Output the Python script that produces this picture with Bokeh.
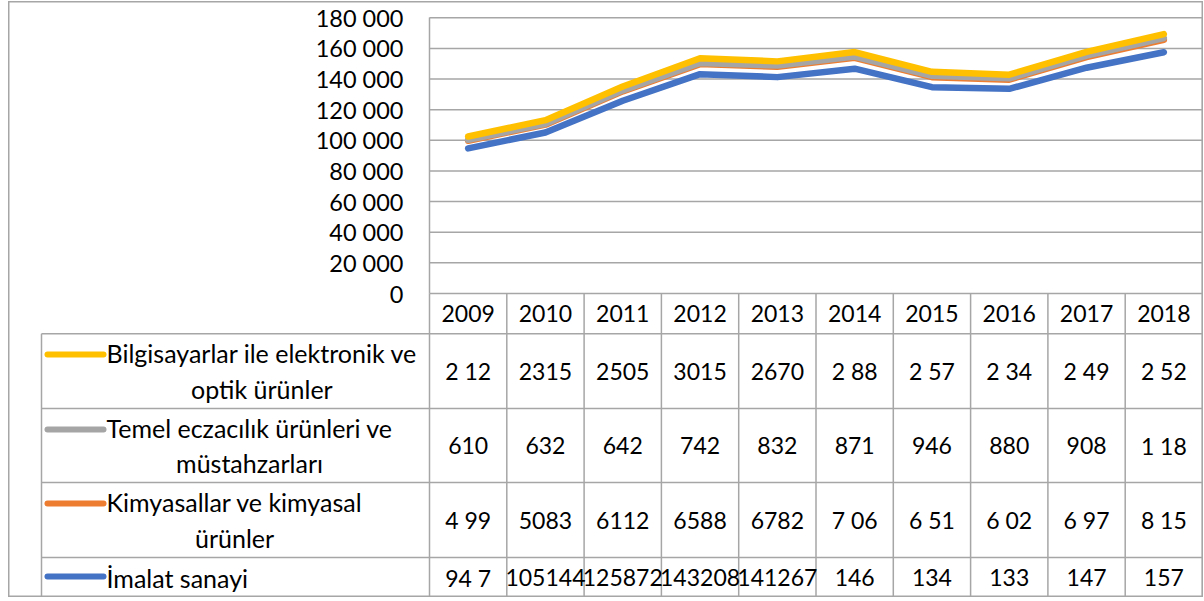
import numpy as np
from bokeh.plotting import figure
from bokeh.models import Range1d, LinearAxis, FixedTicker
from bokeh.core.properties import value
from bokeh.embed import file_html
from bokeh.resources import INLINE

# ---------------- data ----------------
years = ["2009", "2010", "2011", "2012", "2013", "2014", "2015", "2016", "2017", "2018"]
imalat = [94750, 105144, 125872, 143208, 141267, 146800, 134700, 133600, 147400, 157500]
kimyasal = [4990, 5083, 6112, 6588, 6782, 7060, 6510, 6020, 6970, 8150]
eczacilik = [610, 632, 642, 742, 832, 871, 946, 880, 908, 1180]
bilgisayar = [2120, 2315, 2505, 3015, 2670, 2880, 2570, 2340, 2490, 2520]

# texts as displayed in the (narrow) data-table cells
lbl_bilgisayar = ["2 12", "2315", "2505", "3015", "2670", "2 88", "2 57", "2 34", "2 49", "2 52"]
lbl_eczacilik = ["610", "632", "642", "742", "832", "871", "946", "880", "908", "1 18"]
lbl_kimyasal = ["4 99", "5083", "6112", "6588", "6782", "7 06", "6 51", "6 02", "6 97", "8 15"]
lbl_imalat = ["94 7", "105144", "125872", "143208", "141267", "146", "134", "133", "147", "157"]

series_names = ["Bilgisayarlar ile elektronik ve\noptik ürünler",
                "Temel eczacılık ürünleri ve\nmüstahzarları",
                "Kimyasallar ve kimyasal\nürünler",
                "İmalat sanayi"]
series_colors = ["#FFC000", "#A5A5A5", "#ED7D31", "#4472C4"]

y_ticks = [0, 20000, 40000, 60000, 80000, 100000, 120000, 140000, 160000, 180000]
y_tick_labels = ["0", "20 000", "40 000", "60 000", "80 000", "100 000",
                 "120 000", "140 000", "160 000", "180 000"]

# ---------------- layout constants (pixels) ----------------
W, H = 1195, 596
PLOT_LEFT = 421          # frame px of plot-area left edge
COL_W = 77.3             # width of one year column
ZERO_Y = 292             # frame py of value 0
PX_PER_UNIT = 275.7 / 180000

X0 = -PLOT_LEFT / COL_W
X1 = (W - PLOT_LEFT) / COL_W
Y1 = ZERO_Y / PX_PER_UNIT
Y0 = -(H - ZERO_Y) / PX_PER_UNIT

FONT = "Lato"
GRID_C = "#a6a6a6"

p = figure(width=W, height=H, x_range=Range1d(X0, X1), y_range=Range1d(Y0, Y1),
           x_axis_type=None, y_axis_type=None, toolbar_location=None,
           output_backend="svg", min_border=0,
           outline_line_color=GRID_C, outline_line_width=2,
           background_fill_color="white", border_fill_color="white")
p.margin = (1, 0, 0, 8)
p.extra_x_ranges = {"px": Range1d(0, W)}
p.extra_y_ranges = {"py": Range1d(H, 0)}

# gridlines (plot area only)
p.segment(x0=0, x1=len(years), y0=y_ticks, y1=y_ticks, line_color=GRID_C, line_width=1.5)
# plot area right border
p.segment(x0=[len(years)], x1=[len(years)], y0=[0], y1=[max(y_ticks)],
          line_color=GRID_C, line_width=1.5)

# y axis placed at the plot-area left edge
yax = LinearAxis(fixed_location=0, ticker=FixedTicker(ticks=y_ticks),
                 major_label_overrides={t: l for t, l in zip(y_ticks, y_tick_labels)},
                 bounds=(0, max(y_ticks)))
yax.axis_line_color = GRID_C
yax.axis_line_width = 1.5
yax.major_tick_line_color = None
yax.minor_tick_line_color = None
yax.major_tick_in = 0
yax.major_tick_out = 0
yax.major_label_standoff = 26
yax.major_label_text_font = FONT
yax.major_label_text_font_size = "23.5px"
yax.major_label_text_color = "black"
p.add_layout(yax, "left")

# stacked lines
xs = np.arange(len(years)) + 0.5
s1 = np.array(imalat, dtype=float)
s2 = s1 + np.array(kimyasal)
s3 = s2 + np.array(eczacilik)
s4 = s3 + np.array(bilgisayar)
for ys, c in [(s1, series_colors[3]), (s2, series_colors[2]),
              (s3, series_colors[1]), (s4, series_colors[0])]:
    p.line(xs, ys, line_color=c, line_width=6.5, line_cap="round", line_join="round")

# ---------------- data table ----------------
HEAD_TOP, HEAD_BOT = 292, 332.3
ROW_EDGES = [332.3, 407, 481, 556, H]
LEG_LEFT, RIGHT = 33, 1194

# horizontal lines
p.segment(x0=LEG_LEFT, x1=RIGHT, y0=ROW_EDGES, y1=ROW_EDGES, line_color=GRID_C,
          line_width=1.5, x_range_name="px", y_range_name="py")
# legend column left border
p.segment(x0=[LEG_LEFT], x1=[LEG_LEFT], y0=[HEAD_BOT], y1=[H], line_color=GRID_C,
          line_width=1.5, x_range_name="px", y_range_name="py")
# column separators
cols = list(range(len(years) + 1))
p.segment(x0=cols, x1=cols, y0=HEAD_TOP, y1=H, line_color=GRID_C, line_width=1.5,
          y_range_name="py")

# header years
p.text(x=xs, y=[(HEAD_TOP + HEAD_BOT) / 2] * len(years), text=years,
       text_font=value(FONT), text_font_size="23px", text_align="center",
       text_baseline="middle", text_color="black", y_range_name="py")

row_labels = [lbl_bilgisayar, lbl_eczacilik, lbl_kimyasal, lbl_imalat]
for r, labels in enumerate(row_labels):
    yc = (ROW_EDGES[r] + ROW_EDGES[r + 1]) / 2
    p.text(x=xs, y=[yc] * len(years), text=labels,
           text_font=value(FONT), text_font_size="23px", text_align="center",
           text_baseline="middle", text_color="black", y_range_name="py")

# legend keys and names
key_y = [353, 428, 502, 575]
for r in range(4):
    yc = (ROW_EDGES[r] + ROW_EDGES[r + 1]) / 2
    p.segment(x0=[39], x1=[95], y0=[key_y[r]], y1=[key_y[r]], line_color=series_colors[r],
              line_width=6, line_cap="round", x_range_name="px", y_range_name="py")
    p.text(x=[98], y=[yc], text=[series_names[r]], anchor="center_left",
           text_font=value(FONT), text_font_size="25px", text_align="center",
           text_baseline="middle", text_line_height=1.19, text_color="black",
           x_range_name="px", y_range_name="py")

open("out.html", "w").write(file_html(p, INLINE))
